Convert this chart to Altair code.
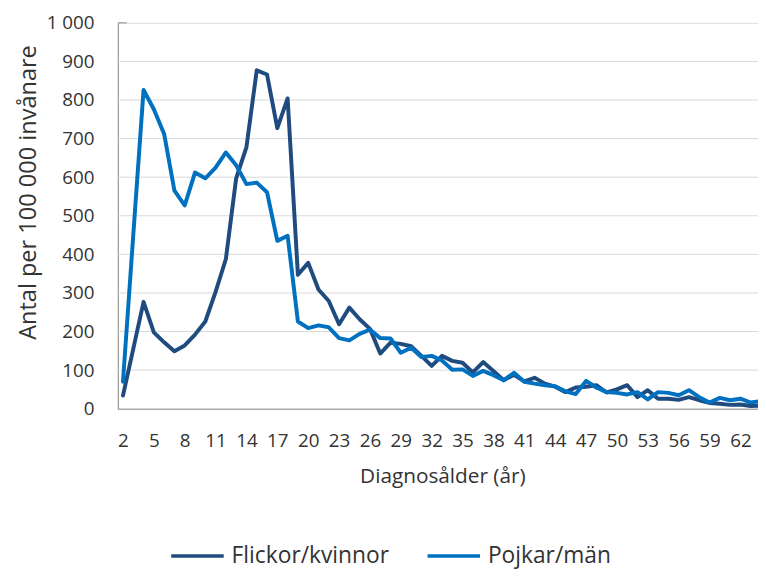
import altair as alt
import pandas as pd

ages = list(range(2, 65))
flickor = [34, 155, 277, 198, 172, 149, 164, 192, 226, 303, 388, 597, 678, 877, 866, 727, 804,
           347, 378, 309, 279, 219, 262, 232, 207, 143, 171, 168, 162, 137, 111, 137, 124, 119,
           94, 121, 98, 74, 88, 71, 80, 65, 57, 43, 55, 57, 61, 42, 50, 61, 30, 48, 26, 26, 23,
           30, 22, 15, 13, 10, 11, 7, 8]
pojkar = [70, 450, 826, 776, 712, 565, 527, 612, 597, 625, 664, 631, 582, 586, 561, 435, 448,
          226, 209, 216, 211, 183, 177, 194, 205, 183, 182, 145, 158, 134, 137, 125, 101, 102,
          85, 98, 87, 74, 93, 70, 65, 61, 58, 45, 38, 72, 55, 43, 41, 37, 43, 24, 43, 41, 35,
          48, 30, 16, 28, 22, 26, 16, 20]
series_names = ["Flickor/kvinnor", "Pojkar/män"]
series_colors = ["#1F4B7E", "#0070C0"]
x_label_values = list(range(2, 63, 3))
y_values = list(range(0, 1001, 100))
x_title = "Diagnosålder (år)"
y_title = "Antal per 100 000 invånare"

rows = []
for name, vals in zip(series_names, [flickor, pojkar]):
    for a, v in zip(ages, vals):
        rows.append({"age": a, "value": v, "serie": name})
df = pd.DataFrame(rows)

W, H = 647, 390
x_scale = alt.Scale(domain=[1.5, 1.5 + W / 10.4], nice=False, zero=False)
y_scale = alt.Scale(domain=[0, 1000], nice=False)
FONT = "Open Sans"
TXT = "#333333"
AX = "#8c8c8c"

x_axis = alt.Axis(values=x_label_values, title=x_title, grid=False, ticks=False, tickSize=0,
                  labelPadding=38, labelBaseline="alphabetic", labelFontSize=19,
                  labelFont=FONT, labelColor=TXT, domainColor=AX, labelFlush=False,
                  labelOverlap=False,
                  titleFont=FONT, titleFontSize=21, titleFontWeight="normal", titleColor=TXT,
                  titleX=328, titleY=75, titleBaseline="alphabetic", titleAlign="center")
y_axis = alt.Axis(values=y_values, title=y_title, grid=False, ticks=False, tickSize=0,
                  labelPadding=24, labelFontSize=19, labelFont=FONT, labelColor=TXT,
                  labelBaseline="middle", domainColor=AX, labelFlush=False,
                  labelExpr="replace(format(datum.value, ','), ',', ' ')",
                  titleFont=FONT, titleFontSize=23.8, titleFontWeight="normal", titleColor=TXT,
                  titleX=-83, titleY=171, titleBaseline="alphabetic", titleAlign="center",
                  titleAngle=270)

grid_df = pd.DataFrame({"value": [v for v in y_values if 0 < v < 1000]})
grid = alt.Chart(grid_df).mark_rule(color="#d9d9d9", strokeWidth=1).encode(
    y=alt.Y("value:Q", scale=y_scale, axis=y_axis),
    x=alt.value(0), x2=alt.value(W),
)

tick_df = pd.DataFrame({"age": [a - 0.5 for a in ages] + [ages[-1] + 0.5]})
xticks = alt.Chart(tick_df).mark_rule(color=AX, strokeWidth=1, clip=True).encode(
    x=alt.X("age:Q", scale=x_scale, axis=x_axis),
    y=alt.value(H), y2=alt.value(H + 6),
)

top_df = pd.DataFrame({"value": [1000]})
top_stub = alt.Chart(top_df).mark_rule(color=AX, strokeWidth=1).encode(
    y=alt.Y("value:Q", scale=y_scale, axis=y_axis),
    x=alt.value(0), x2=alt.value(9),
)

lines = alt.Chart(df).mark_line(strokeWidth=4, clip=True, strokeJoin="round", strokeCap="round").encode(
    x=alt.X("age:Q", scale=x_scale, axis=x_axis),
    y=alt.Y("value:Q", scale=y_scale, axis=y_axis),
    color=alt.Color("serie:N", scale=alt.Scale(domain=series_names, range=series_colors),
                    sort=series_names,
                    legend=alt.Legend(title=None, orient="none", legendX=52, legendY=510,
                                      direction="horizontal", symbolType="stroke",
                                      symbolSize=2809, symbolStrokeWidth=3.5,
                                      labelFont=FONT, labelFontSize=23, labelColor=TXT,
                                      labelOffset=6, columnPadding=31, labelLimit=400, padding=0)),
)

chart = alt.layer(grid, xticks, top_stub, lines).properties(
    width=W, height=H,
    autosize=alt.AutoSizeParams(type="none"),
    padding={"left": 111, "top": 12, "right": 0, "bottom": 159},
).configure_view(stroke=None).configure(background="white")

chart.save("out.html", embed_options={"renderer": "svg", "actions": False})
